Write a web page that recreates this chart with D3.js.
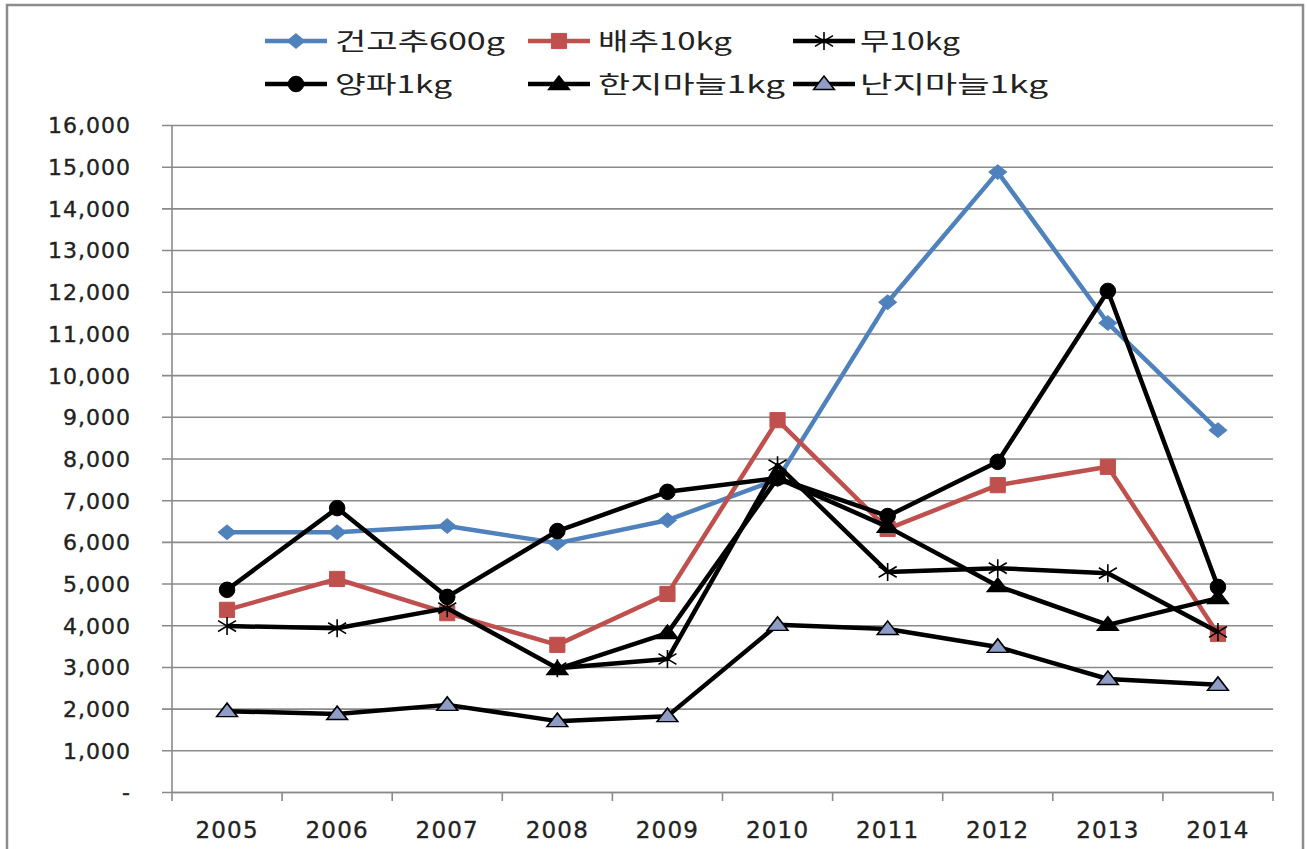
<!DOCTYPE html>
<html>
<head>
<meta charset="utf-8">
<script src="https://cdn.jsdelivr.net/npm/d3@7"></script>
<style>
  body { margin: 0; background: #fff; }
  svg { display: block; }
</style>
</head>
<body>
<script>
// chart data
let years = ["2005", "2006", "2007", "2008", "2009", "2010", "2011", "2012", "2013", "2014"];
let pepper = [6230, 6230, 6380, 5970, 6520, 7500, 11750, 14870, 11250, 8680];     // 건고추600g
let cabbage = [4370, 5110, 4290, 3530, 4750, 8920, 6310, 7360, 7800, 3790];      // 배추10kg
let radish = [3980, 3930, 4410, 2970, 3190, 7840, 5280, 5370, 5250, 3840];       // 무10kg
let onion = [4850, 6810, 4680, 6260, 7200, 7530, 6620, 7920, 12020, 4920];       // 양파1kg
let garlicHan = [null, null, null, 2950, 3810, 7530, 6360, 4940, 4010, 4650];    // 한지마늘1kg
let garlicNan = [1940, 1870, 2090, 1700, 1820, 4010, 3910, 3480, 2710, 2570];    // 난지마늘1kg
let yTicks = [0, 1000, 2000, 3000, 4000, 5000, 6000, 7000, 8000, 9000, 10000,
  11000, 12000, 13000, 14000, 15000, 16000];

let series = [
  { name: "건고추600g", values: pepper, color: "#4F81BD", marker: "diamond", fill: "#4F81BD" },
  { name: "배추10kg", values: cabbage, color: "#C0504D", marker: "square", fill: "#C0504D" },
  { name: "무10kg", values: radish, color: "#000", marker: "star", fill: "none" },
  { name: "양파1kg", values: onion, color: "#000", marker: "circle", fill: "#000" },
  { name: "한지마늘1kg", values: garlicHan, color: "#000", marker: "triangle", fill: "#000" },
  { name: "난지마늘1kg", values: garlicNan, color: "#000", marker: "triangle", fill: "#8E9DC6" }
];

let svgWidth = 1307;
let svgHeight = 849;
let plot = { left: 172, right: 1273, top: 125, bottom: 792 };

let svg = d3.select("body").append("svg")
  .attr("width", svgWidth)
  .attr("height", svgHeight);

// outer frame
svg.append("rect")
  .attr("x", 7).attr("y", 5)
  .attr("width", 1296).attr("height", 860)
  .attr("fill", "#fff")
  .attr("stroke", "#8c8c8c")
  .attr("stroke-width", 2.5);

let xScale = d3.scaleBand().domain(years).range([plot.left, plot.right]).padding(0);
let yScale = d3.scaleLinear().domain([0, 16000]).range([plot.bottom, plot.top]);

// gridlines + y labels
let yAxis = d3.axisLeft(yScale)
  .tickValues(yTicks)
  .tickSize(-(plot.right - plot.left))
  .tickPadding(0)
  .tickFormat(d => d === 0 ? "-" : d3.format(",")(d));

let gy = svg.append("g")
  .attr("transform", `translate(${plot.left},0)`)
  .call(yAxis);
gy.select(".domain").remove();
gy.selectAll(".tick line")
  .attr("x1", -10)
  .attr("stroke", "#8a8a8a")
  .attr("stroke-width", 1.6);
gy.selectAll(".tick text")
  .attr("x", -41)
  .attr("dy", "0.36em")
  .style("font-family", "'DejaVu Sans', sans-serif")
  .style("font-size", "22px")
  .style("letter-spacing", "1px")
  .attr("fill", "#222")
  .attr("stroke", "#222")
  .attr("stroke-width", 0.35);

// y axis line
svg.append("line")
  .attr("x1", plot.left).attr("x2", plot.left)
  .attr("y1", plot.top).attr("y2", plot.bottom)
  .attr("stroke", "#8a8a8a").attr("stroke-width", 1.6);

// x axis
let xAxis = d3.axisBottom(xScale).tickSize(0).tickPadding(30);
let gx = svg.append("g")
  .attr("transform", `translate(0,${plot.bottom})`)
  .call(xAxis);
gx.select(".domain")
  .attr("stroke", "#8a8a8a").attr("stroke-width", 1.6);
gx.selectAll(".tick text")
  .style("font-family", "'DejaVu Sans', sans-serif")
  .style("font-size", "23px")
  .style("letter-spacing", "1.2px")
  .attr("fill", "#222")
  .attr("stroke", "#222")
  .attr("stroke-width", 0.35);
// boundary tick marks
gx.selectAll(".bound")
  .data(years.concat(["end"]))
  .enter()
  .append("line")
  .attr("x1", (d, i) => i < years.length ? xScale(d) : plot.right)
  .attr("x2", (d, i) => i < years.length ? xScale(d) : plot.right)
  .attr("y1", 0).attr("y2", 9)
  .attr("stroke", "#8a8a8a").attr("stroke-width", 1.6);

// marker drawing
function drawMarker(g, type, fill, stroke) {
  if (type === "diamond") {
    g.append("path").attr("d", d3.symbol(d3.symbolDiamond2, 150)())
      .attr("transform", "scale(1.15,0.95)")
      .attr("fill", fill).attr("stroke", fill).attr("stroke-width", 1);
  } else if (type === "square") {
    g.append("path").attr("d", d3.symbol(d3.symbolSquare, 230)())
      .attr("fill", fill).attr("stroke", fill).attr("stroke-width", 1);
  } else if (type === "circle") {
    g.append("path").attr("d", d3.symbol(d3.symbolCircle, 190)())
      .attr("fill", fill).attr("stroke", "#000").attr("stroke-width", 1);
  } else if (type === "triangle") {
    g.append("path").attr("d", d3.symbol(d3.symbolTriangle, 130)())
      .attr("transform", "translate(0,1) scale(1.2,0.9)")
      .attr("fill", fill).attr("stroke", "#000").attr("stroke-width", 1.5);
  } else if (type === "star") {
    let r = 9;
    let p = d3.path();
    p.moveTo(0, -r); p.lineTo(0, r);
    p.moveTo(-r, -r * 0.6); p.lineTo(r, r * 0.6);
    p.moveTo(-r, r * 0.6); p.lineTo(r, -r * 0.6);
    g.append("path").attr("d", p.toString())
      .attr("fill", "none").attr("stroke", stroke).attr("stroke-width", 1.6);
  }
}

let line = d3.line()
  .defined(d => d.v !== null)
  .x(d => xScale(d.year) + xScale.bandwidth() / 2)
  .y(d => yScale(d.v));

series.forEach(function(s) {
  let pts = years.map((y, i) => ({ year: y, v: s.values[i] }));
  let g = svg.append("g");
  g.append("path")
    .datum(pts)
    .attr("d", line)
    .attr("fill", "none")
    .attr("stroke", s.color)
    .attr("stroke-width", 4.5)
    .attr("stroke-linejoin", "round");
  g.selectAll(".mk")
    .data(pts.filter(d => d.v !== null))
    .enter()
    .append("g")
    .attr("transform", d => `translate(${xScale(d.year) + xScale.bandwidth() / 2},${yScale(d.v)})`)
    .each(function() { drawMarker(d3.select(this), s.marker, s.fill, s.color); });
});

// legend
let legendPos = [
  { lx: 265, tx: 335, y: 41, w: 170 },
  { lx: 528, tx: 598, y: 41, w: 134 },
  { lx: 793, tx: 860, y: 41, w: 100 },
  { lx: 265, tx: 335, y: 84, w: 117 },
  { lx: 528, tx: 598, y: 84, w: 187 },
  { lx: 793, tx: 860, y: 84, w: 188 }
];
series.forEach(function(s, i) {
  let p = legendPos[i];
  let g = svg.append("g");
  g.append("line")
    .attr("x1", p.lx).attr("x2", p.lx + 62)
    .attr("y1", p.y).attr("y2", p.y)
    .attr("stroke", s.color).attr("stroke-width", 4.5);
  let m = g.append("g").attr("transform", `translate(${p.lx + 31},${p.y})`);
  drawMarker(m, s.marker, s.fill, s.color);
  g.append("text")
    .attr("x", p.tx).attr("y", p.y)
    .attr("dy", "0.36em")
    .attr("textLength", p.w)
    .attr("lengthAdjust", "spacingAndGlyphs")
    .style("font-family", "'Noto Sans CJK KR', sans-serif")
    .style("font-size", "24px")
    .attr("fill", "#222")
    .text(s.name);
});
</script>
</body>
</html>
